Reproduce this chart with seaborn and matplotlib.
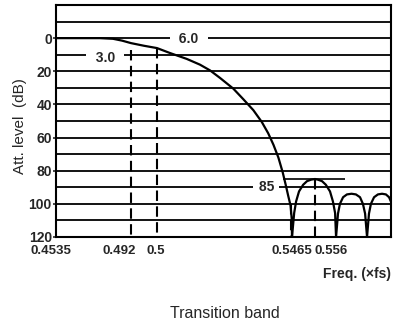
import numpy as np
import pandas as pd
import matplotlib
matplotlib.use("Agg")
import matplotlib.pyplot as plt
import matplotlib.transforms as mtransforms
import seaborn as sns

# Pass band and transition roll-off (frequency in units of fs, attenuation in dB)
freq_main = [0.4535, 0.4761, 0.4828, 0.4874, 0.492, 0.496, 0.5, 0.5045,
             0.5102, 0.5148, 0.5183, 0.5217, 0.5263, 0.5297, 0.5332, 0.5361,
             0.5383, 0.5401, 0.5418, 0.5433, 0.5444, 0.5452, 0.546, 0.5464,
             0.5465]
att_main = [0, 0, 0.4, 1.5, 3.0, 4.6, 6.0, 9.0,
            12.5, 16.0, 19.5, 24.0, 30.5, 36.8, 43.5, 50.6,
            57.4, 64.3, 72.0, 81.0, 89.0, 95.2, 101.0, 109.0,
            120.0]

# Stop-band side lobes
freq_lobes = [0.5474, 0.5482, 0.5494, 0.5511, 0.5527, 0.5544, 0.556, 0.5572,
              0.5589, 0.5605, 0.5622, 0.5634, 0.5643, 0.5647,
              0.5655, 0.5663, 0.5676, 0.5692, 0.5711, 0.5729, 0.5746, 0.5758,
              0.5767, 0.5775,
              0.5783, 0.5791, 0.5804, 0.5820, 0.5837, 0.5853, 0.5866, 0.5874]
att_lobes = [105.5, 98.5, 92.5, 88.5, 86.3, 85.4, 85.0, 85.4,
             86.3, 88.5, 92.5, 98.5, 105.5, 120,
             105.9, 100, 96, 94.3, 93.9, 94.3, 96, 100,
             105.9, 120,
             105.9, 100, 96, 94.3, 93.9, 94.3, 96, 98.7]

xtick_values = [0.4535, 0.492, 0.5, 0.5465, 0.556]
xtick_labels = ["0.4535", "0.492", "0.5", "0.5465", "0.556"]
ytick_values = [0, 20, 40, 60, 80, 100, 120]

curve = pd.DataFrame({"freq": freq_main + freq_lobes,
                      "att": att_main + att_lobes})

sns.set_style("white")
plt.rcParams["font.family"] = ["Liberation Sans", "DejaVu Sans"]

fig = plt.figure(figsize=(4.03, 3.27), dpi=100)
ax = fig.add_axes([56 / 403, 90 / 327, 335 / 403, 232 / 327])

# Schematic (non-uniform) frequency axis: piecewise-linear warp
_fa = np.array([0.4535, 0.492, 0.5, 0.5465, 0.556, 0.5874])
_pa = np.array([0.0, 75.0, 101.0, 236.0, 259.0, 335.0])


def _warp(f):
    f = np.asarray(f, dtype=float)
    out = np.interp(f, _fa, _pa)
    s0 = (_pa[1] - _pa[0]) / (_fa[1] - _fa[0])
    s1 = (_pa[-1] - _pa[-2]) / (_fa[-1] - _fa[-2])
    out = np.where(f < _fa[0], _pa[0] + (f - _fa[0]) * s0, out)
    out = np.where(f > _fa[-1], _pa[-1] + (f - _fa[-1]) * s1, out)
    return out


def _unwarp(p):
    p = np.asarray(p, dtype=float)
    out = np.interp(p, _pa, _fa)
    s0 = (_fa[1] - _fa[0]) / (_pa[1] - _pa[0])
    s1 = (_fa[-1] - _fa[-2]) / (_pa[-1] - _pa[-2])
    out = np.where(p < _pa[0], _fa[0] + (p - _pa[0]) * s0, out)
    out = np.where(p > _pa[-1], _fa[-1] + (p - _pa[-1]) * s1, out)
    return out


ax.set_xscale("function", functions=(_warp, _unwarp))
ax.set_xlim(0.4535, 0.5874)
ax.set_ylim(120, -20)

lw = 1.5
# Horizontal rules every 10 dB
for y in range(-10, 120, 10):
    ax.axhline(y, color="black", lw=1.3, zorder=1)

# Dashed markers down from the curve
dash = (0, (5, 2.6))
ax.vlines(0.492, 7.0, 120, colors="black", lw=lw, linestyles=dash, zorder=2)
ax.vlines(0.5, 6.0, 120, colors="black", lw=lw, linestyles=dash, zorder=2)
ax.vlines(0.5462, 100.0, 120, colors="black", lw=lw, linestyles=dash, zorder=2)
ax.vlines(0.556, 85.0, 120, colors="black", lw=lw, linestyles=dash, zorder=2)
# Tangent at the first side-lobe peak
ax.hlines(85.0, 0.5434, 0.5684, colors="black", lw=1.2, zorder=2)

sns.lineplot(data=curve, x="freq", y="att", sort=False, estimator=None,
             color="black", lw=1.6, ax=ax, zorder=4)

box = dict(boxstyle="square,pad=0.1", fc="white", ec="none")
ax.text(0.4787, 12.0, "  3.0  ", ha="center", va="center", fontsize=10,
        fontweight="bold", bbox=box, zorder=3)
ax.text(0.511, 0.3, "  6.0  ", ha="center", va="center", fontsize=10,
        fontweight="bold", bbox=box, zorder=3)
ax.text(0.5377, 89.8, " 85 ", ha="center", va="center", fontsize=10,
        fontweight="bold", bbox=box, zorder=3)

# Axes frame
for sp in ax.spines.values():
    sp.set_color("black")
    sp.set_linewidth(1.5)

ax.set_yticks(ytick_values)
ax.set_yticklabels([str(v) for v in ytick_values], fontweight="bold", fontsize=10)
ax.tick_params(axis="y", length=2.5, width=1.2, pad=0.5, direction="out", left=True)

ax.set_xticks(xtick_values)
ax.set_xticklabels(xtick_labels, fontweight="bold", fontsize=9.5)
ax.tick_params(axis="x", length=0, pad=6)
ax.minorticks_off()
offsets_px = [-5, -11.5, -1, -0.5, 16]
for lab, dx in zip(ax.get_xticklabels(), offsets_px):
    lab.set_transform(lab.get_transform() +
                      mtransforms.ScaledTranslation(dx / 100, 0, fig.dpi_scale_trans))

ax.set_ylabel("Att. level  (dB)", fontsize=11)
ax.yaxis.set_label_coords(-0.087, 0.48)
ax.set_xlabel("Freq. (×fs)", fontsize=10, fontweight="bold", loc="right", labelpad=7)

fig.text(224.5 / 403, 1 - 313 / 327, "Transition band", ha="center", va="center",
         fontsize=11.5)

fig.savefig("out.png", dpi=100)
